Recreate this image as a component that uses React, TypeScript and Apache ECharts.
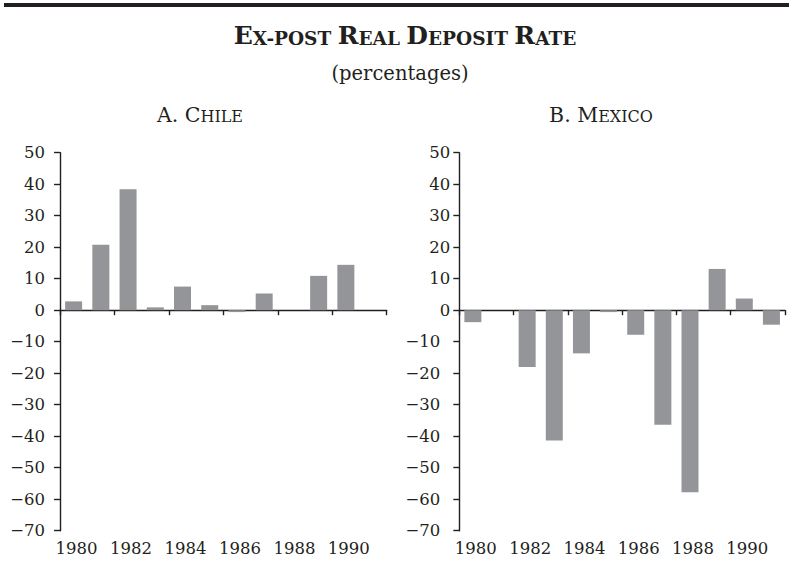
import React, { useEffect, useRef } from "react";
import * as echarts from "echarts";

const years = ["1980", "1981", "1982", "1983", "1984", "1985", "1986", "1987", "1988", "1989", "1990", "1991"];
const chileValues = [2.8, 20.8, 38.4, 0.9, 7.5, 1.6, -0.6, 5.3, 0, 10.9, 14.4, null];
const mexicoValues = [-3.8, 0, -18, -41.4, -13.7, -0.6, -7.8, -36.4, -57.8, 13.1, 3.7, -4.6];
const yMin = -70;
const yMax = 50;
const yStep = 10;

const FONT = "DejaVu Serif";
const INK = "#231f20";
const BAR = "#939598";

function fmt(v: number) {
  return v < 0 ? "\u2212" + String(-v) : String(v);
}

function richStyles(big: number, small: number, weight: string) {
  return {
    b: { fontSize: big, fontFamily: FONT, fontWeight: weight, fill: INK, height: big * 0.692, verticalAlign: "bottom" },
    s: { fontSize: small, fontFamily: FONT, fontWeight: weight, fill: INK, height: small * 0.692, verticalAlign: "bottom" },
  };
}

export default function App() {
  const ref = useRef<HTMLDivElement>(null);
  useEffect(() => {
    if (!ref.current) return;
    const chart = echarts.init(ref.current, null, { renderer: "svg" });
    const grids = [
      { left: 60, top: 152.7, width: 326.7, height: 378 },
      { left: 459.3, top: 152.7, width: 325.7, height: 378 },
    ];
    const labelAxis = (gi: number) => ({
      type: "category",
      gridIndex: gi,
      data: years,
      position: "bottom",
      axisLine: { show: false, onZero: false },
      axisTick: { show: false },
      axisLabel: {
        interval: 1,
        margin: 9,
        fontFamily: FONT,
        fontSize: 16.5,
        color: INK,
        padding: [0, 0, 0, 6],
      },
    });
    const zeroAxis = (gi: number) => ({
      type: "category",
      gridIndex: gi,
      data: years,
      position: "bottom",
      axisLine: { show: true, onZero: true, lineStyle: { color: INK, width: 1.4 } },
      axisTick: { show: true, interval: 1, length: 5, lineStyle: { color: INK, width: 1.4 } },
      axisLabel: { show: false },
    });
    const yAxis = (gi: number, mexico: boolean) => ({
      type: "value",
      gridIndex: gi,
      min: yMin,
      max: yMax,
      interval: yStep,
      axisLine: { show: true, onZero: false, lineStyle: { color: INK, width: 1.4 } },
      axisTick: { show: true, length: 6, lineStyle: { color: INK, width: 1.4 } },
      splitLine: { show: false },
      axisLabel: {
        margin: mexico ? 9 : 15,
        fontFamily: FONT,
        fontSize: 16.5,
        color: INK,
        formatter: (v: number) => (mexico && v < 0 ? "{n|" + fmt(v) + "}" : fmt(v)),
        rich: mexico ? { n: { fontFamily: FONT, fontSize: 16.5, color: INK, padding: [0, 10, 0, 0] } } : undefined,
      },
    });
    chart.setOption({
      animation: false,
      backgroundColor: "#ffffff",
      grid: grids,
      xAxis: [labelAxis(0), zeroAxis(0), labelAxis(1), zeroAxis(1)],
      yAxis: [yAxis(0, false), yAxis(1, true)],
      series: [
        {
          type: "bar",
          name: "Chile",
          xAxisIndex: 0,
          yAxisIndex: 0,
          data: chileValues,
          barWidth: 17,
          itemStyle: { color: BAR },
          silent: true,
        },
        {
          type: "bar",
          name: "Mexico",
          xAxisIndex: 2,
          yAxisIndex: 1,
          data: mexicoValues,
          barWidth: 17,
          itemStyle: { color: BAR },
          silent: true,
        },
      ],
      graphic: [
        { type: "rect", shape: { x: 4, y: 3, width: 785, height: 4 }, style: { fill: INK }, silent: true },
        {
          type: "text",
          x: 405,
          y: 44.5,
          style: {
            text: "{b|E}{s|X-POST }{b|R}{s|EAL }{b|D}{s|EPOSIT }{b|R}{s|ATE}",
            rich: richStyles(25, 18.5, "bold"),
            align: "center",
            verticalAlign: "bottom",
            fill: INK,
          },
        },
        {
          type: "text",
          x: 400,
          y: 73,
          style: {
            text: "(percentages)",
            fontFamily: FONT,
            fontSize: 19.5,
            fill: INK,
            align: "center",
            verticalAlign: "middle",
          },
        },
        {
          type: "text",
          x: 200,
          y: 121.7,
          style: {
            text: "{b|A. C}{s|HILE}",
            rich: richStyles(20.5, 16, "normal"),
            align: "center",
            verticalAlign: "bottom",
            fill: INK,
          },
        },
        {
          type: "text",
          x: 601,
          y: 121.7,
          style: {
            text: "{b|B. M}{s|EXICO}",
            rich: richStyles(20.5, 16, "normal"),
            align: "center",
            verticalAlign: "bottom",
            fill: INK,
          },
        },
      ],
    });
    return () => chart.dispose();
  }, []);
  return <div ref={ref} style={{ position: "absolute", left: 0, top: 0, width: 789, height: 563 }} />;
}
